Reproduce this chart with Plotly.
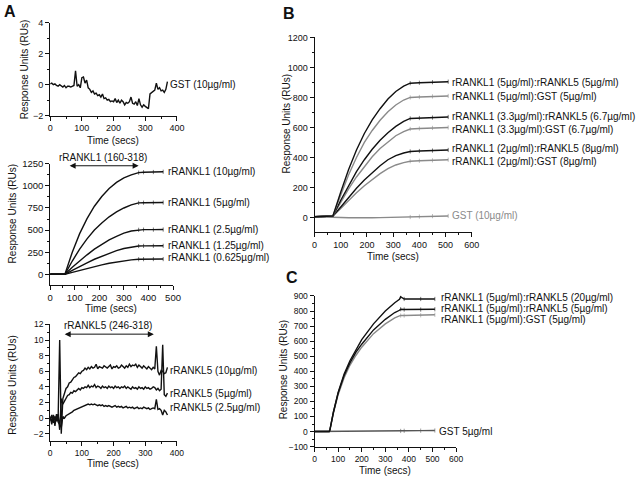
import plotly.graph_objects as go

W, H = 640, 481
FONT = "Liberation Sans, Arial, sans-serif"
BLACK = "#111111"
GRAY = "#8a8a8a"

# ---------------- Panel A (top): GST 10ug/ml ----------------
gst_a_vals = [0.05, 0.1, 0.0, 0.05, -0.05, -0.1, 0.0, -0.1, -0.15, -0.05, -0.2, -0.1, -0.1, -0.15, -0.1, -0.05,
              0.9, -0.1, 0.0, -0.2, 0.45, 0.5, 0.1, 0.3, -0.2, -0.3, -0.5, -0.4, -0.6, -0.55, -0.7, -0.65,
              -0.8, -0.6, -0.9, -0.85, -1.0, -0.95, -1.1, -1.05, -1.1, -0.9, -1.15, -1.0, -1.2, -1.0, -1.1,
              -1.3, -1.15, -1.2, -1.1, -0.8, -1.2, -1.25, -1.1, -1.35, -0.9, -1.3, -1.45, -1.3, -1.4, -1.5,
              -1.55, -0.6, -0.5, -0.45, -0.35, 0.1, -0.3, -0.2, -0.4, -0.35, -0.5, -0.3, 0.2]
gst_a_t = [5 * i for i in range(len(gst_a_vals))]

# ---------------- Panel A (middle): rRANKL1 dilutions ----------------
rankl1_t = [0, 60, 90, 120, 150, 180, 210, 240, 270, 300, 330, 360, 380, 420, 460]
rankl1_10 = [0, 0, 250, 460, 630, 770, 880, 970, 1040, 1090, 1125, 1150, 1155, 1157, 1160]
rankl1_5 = [0, 0, 150, 285, 400, 500, 580, 650, 705, 750, 785, 808, 810, 811, 812]
rankl1_2_5 = [0, 0, 80, 155, 220, 285, 340, 390, 430, 465, 490, 503, 505, 505, 506]
rankl1_1_25 = [0, 0, 45, 90, 130, 170, 205, 240, 268, 292, 310, 320, 321, 322, 322]
rankl1_0_625 = [0, 0, 22, 45, 67, 88, 107, 125, 140, 153, 163, 170, 171, 172, 172]
rankl1_labels = ["rRANKL1 (10µg/ml)", "rRANKL1 (5µg/ml)", "rRANKL1 (2.5µg/ml)",
                 "rRANKL1 (1.25µg/ml)", "rRANKL1 (0.625µg/ml)"]
rankl1_label_y = [1160, 815, 508, 322, 188]

# ---------------- Panel A (bottom): rRANKL5 dilutions ----------------
rankl5_10 = [0.2, -0.5, 0.3, -1.0, 0.5, -0.3,
             10.0, -2.0, 2.5, 3.2, 3.8, 4.0, 4.5, 4.6, 5.0, 5.2, 5.3, 5.6, 5.8, 5.7, 6.0, 6.1, 6.4, 6.2,
             6.5, 6.3, 6.6, 6.4, 6.5, 6.9, 6.3, 6.6, 6.5, 6.4, 6.7, 6.5, 6.4, 6.6, 6.8, 6.3, 6.6, 6.5,
             6.7, 6.4, 6.5, 6.8, 6.6, 6.4, 6.7, 6.5, 6.9, 6.6, 6.8, 6.7, 6.9, 6.5, 6.8, 6.6, 6.4, 6.7,
             6.5, 6.3, 6.6, 6.4, 6.2, 6.5, 6.3, 9.2, 6.0, 5.5, 6.1, 6.0, 5.7, 5.8, 6.5]
rankl5_5 = [-0.3, 0.4, -0.6, 0.2, -0.4, 0.5,
            -1.5, 2.5, 1.8, 2.2, 2.6, 2.9, 3.0, 3.3, 3.2, 3.5, 3.4, 3.6, 3.8, 3.6, 3.9, 3.8, 4.0, 3.9,
            4.2, 3.9, 4.1, 4.0, 4.3, 3.9, 4.1, 4.0, 3.8, 4.1, 3.9, 4.0, 3.8, 4.1, 3.9, 4.0, 3.8, 4.1,
            3.9, 4.0, 3.8, 4.0, 3.9, 4.1, 3.8, 4.0, 3.9, 3.7, 4.0, 3.8, 3.9, 3.7, 4.0, 3.8, 3.9, 3.7,
            4.0, 3.8, 3.9, 3.7, 3.8, 4.0, 3.9, 3.6, 3.8, 3.5, 3.7, 9.4, 3.0, 2.8, 3.2]
rankl5_2_5 = [0.1, -0.8, 0.4, -0.2, 0.3, -0.5,
              -0.8, -1.2, 0.2, 0.0, 0.3, 0.4, 0.6, 0.7, 0.8, 1.0, 1.1, 1.2, 1.3, 1.4, 1.5, 1.6, 1.6, 1.7,
              1.8, 1.7, 1.8, 1.7, 1.8, 1.7, 1.6, 1.7, 1.6, 1.7, 1.5, 1.6, 1.5, 1.6, 1.5, 1.4, 1.5, 1.6,
              1.4, 1.5, 1.4, 1.5, 1.3, 1.4, 1.5, 1.3, 1.4, 1.3, 1.4, 1.2, 1.3, 1.4, 1.2, 1.3, 1.2, 1.4,
              1.3, 1.2, 1.3, 1.1, 1.2, 1.3, 1.2, 2.4, 1.1, 1.2, 1.0, 0.4, 1.0, 0.8, 0.4]
rankl5_t = [5 * i for i in range(len(rankl5_10))]
rankl5_labels = ["rRANKL5 (10µg/ml)", "rRANKL5 (5µg/ml)", "rRANKL5 (2.5µg/ml)"]
rankl5_label_y = [6.1, 3.2, 1.3]

# ---------------- Panel B: mixtures ----------------
b_t = [0, 65, 70, 100, 130, 160, 190, 220, 250, 280, 310, 340, 365, 400, 450, 510]
b_l1_l5_5 = [5, 5, 10, 170, 320, 450, 560, 650, 725, 790, 840, 875, 895, 898, 902, 905]
b_l1_gst_5 = [5, 5, 10, 150, 285, 400, 500, 580, 648, 705, 750, 783, 800, 803, 807, 810]
b_l1_l5_33 = [5, 5, 10, 115, 215, 305, 385, 455, 515, 565, 607, 640, 660, 663, 666, 670]
b_l1_gst_33 = [5, 5, 10, 100, 190, 270, 340, 405, 460, 505, 545, 573, 590, 593, 597, 600]
b_l1_l5_2 = [5, 5, 10, 70, 135, 195, 250, 300, 345, 385, 412, 430, 440, 443, 446, 450]
b_l1_gst_2 = [5, 5, 10, 60, 115, 165, 212, 255, 292, 325, 350, 366, 375, 378, 381, 385]
b_gst = [5, 5, 3, 0, -2, -3, -3, -2, -1, 0, 1, 2, 3, 6, 9, 10]
b_labels = ["rRANKL1 (5µg/ml):rRANKL5 (5µg/ml)", "rRANKL1 (5µg/ml):GST (5µg/ml)",
            "rRANKL1 (3.3µg/ml):rRANKL5 (6.7µg/ml)", "rRANKL1 (3.3µg/ml):GST (6.7µg/ml)",
            "rRANKL1 (2µg/ml):rRANKL5 (8µg/ml)", "rRANKL1 (2µg/ml):GST (8µg/ml)", "GST (10µg/ml)"]
b_label_y = [900, 807, 676, 589, 459, 376, 13]

# ---------------- Panel C ----------------
c_t = [0, 62, 65, 80, 100, 125, 150, 175, 200, 250, 300, 340, 360, 365, 380, 450, 510]
c_l1_l5_20 = [0, 0, 10, 130, 260, 380, 470, 545, 610, 715, 800, 855, 878, 895, 880, 880, 880]
c_l1_l5_5 = [0, 0, 10, 128, 255, 370, 455, 525, 580, 675, 745, 790, 805, 812, 810, 810, 812]
c_l1_gst_5 = [0, 0, 10, 122, 245, 355, 440, 505, 560, 650, 715, 755, 768, 770, 770, 772, 775]
c_gst = [0, 0, 0, 0, 0, 0, 0, 0, 0, 1, 2, 3, 3, 4, 5, 6, 7]
c_labels = ["rRANKL1 (5µg/ml):rRANKL5 (20µg/ml)", "rRANKL1 (5µg/ml):rRANKL5 (5µg/ml)",
            "rRANKL1 (5µg/ml):GST (5µg/ml)", "GST 5µg/ml"]
c_label_y = [887, 818, 746, 0]

fig = go.Figure()


def line(x, y, xa, ya, color=BLACK, width=1.4, tick_from=None):
    sizes = [3 if (tick_from is not None and xv >= tick_from) else 0 for xv in x]
    fig.add_trace(go.Scatter(x=x, y=y, mode="lines+markers" if tick_from is not None else "lines",
                             xaxis=xa, yaxis=ya,
                             line=dict(color=color, width=width),
                             marker=dict(symbol="line-ns", size=sizes,
                                         line=dict(color=color, width=0.8)),
                             showlegend=False, hoverinfo="skip"))


# Panel A top
line(gst_a_t, gst_a_vals, "x", "y")
# Panel A middle
for ys in [rankl1_10, rankl1_5, rankl1_2_5, rankl1_1_25, rankl1_0_625]:
    line(rankl1_t, ys, "x2", "y2", tick_from=360)
# Panel A bottom
for ys in [rankl5_10, rankl5_5, rankl5_2_5]:
    line(rankl5_t, ys, "x3", "y3")
# Panel B
for ys, col in [(b_gst, GRAY), (b_l1_gst_2, GRAY), (b_l1_l5_2, BLACK), (b_l1_gst_33, GRAY),
                (b_l1_l5_33, BLACK), (b_l1_gst_5, GRAY), (b_l1_l5_5, BLACK)]:
    line(b_t, ys, "x4", "y4", col, tick_from=365)
# Panel C
for ys, col in [(c_gst, "#555555"), (c_l1_gst_5, GRAY), (c_l1_l5_5, BLACK), (c_l1_l5_20, BLACK)]:
    line(c_t, ys, "x5", "y5", col, tick_from=365)


def px_x(p):
    return p / W


def px_y(p):
    return 1 - p / H


def xaxis(dom, rng, dtick, anchor, fs):
    return dict(domain=dom, range=rng, anchor=anchor, dtick=dtick, tick0=0,
                showline=True, linecolor=BLACK, linewidth=1, ticks="outside", ticklen=4,
                tickcolor=BLACK, tickwidth=1, showgrid=False, zeroline=False,
                tickfont=dict(family=FONT, size=fs, color=BLACK),
                minor=dict(dtick=dtick / 2, ticks="outside", ticklen=2, tickcolor=BLACK, showgrid=False))


def yaxis(dom, rng, dtick, anchor, fs):
    return dict(domain=dom, range=rng, anchor=anchor, dtick=dtick, tick0=0,
                showline=True, linecolor=BLACK, linewidth=1, ticks="outside", ticklen=4,
                tickcolor=BLACK, tickwidth=1, showgrid=False, zeroline=False,
                tickfont=dict(family=FONT, size=fs, color=BLACK),
                minor=dict(dtick=dtick / 2, ticks="outside", ticklen=2, tickcolor=BLACK, showgrid=False))


fig.update_layout(
    width=W, height=H, margin=dict(l=0, r=0, t=0, b=0),
    paper_bgcolor="white", plot_bgcolor="white",
    font=dict(family=FONT, size=10, color=BLACK),
    xaxis=xaxis([px_x(48), px_x(177)], [0, 400], 100, "y", 9),
    yaxis=yaxis([px_y(113), px_y(18)], [-2, 4.01], 2, "x", 9),
    xaxis2=xaxis([px_x(48), px_x(173)], [0, 500], 100, "y2", 9.5),
    yaxis2=yaxis([px_y(286), px_y(162)], [-122, 1252], 250, "x2", 9.5),
    xaxis3=xaxis([px_x(48), px_x(177)], [0, 400], 100, "y3", 8.5),
    yaxis3=yaxis([px_y(445), px_y(326)], [-2.9, 12.02], 2, "x3", 8.5),
    xaxis4=xaxis([px_x(317), px_x(477)], [0, 600], 100, "y4", 9),
    yaxis4=yaxis([px_y(232), px_y(33)], [-98, 1201], 200, "x4", 9),
    xaxis5=xaxis([px_x(317), px_x(461)], [0, 600], 100, "y5", 8.5),
    yaxis5=yaxis([px_y(451), px_y(297)], [-100, 901], 100, "x5", 8.5),
)

ann = []


def label(text, x, y, xr, yr, color=BLACK):
    ann.append(dict(text=text, x=x, y=y, xref=xr, yref=yr, xanchor="left", yanchor="middle",
                    showarrow=False, borderpad=0, font=dict(family=FONT, size=10, color=color)))


def ptext(text, x, y, angle=0, size=10, xanchor="center"):
    ann.append(dict(text=text, x=px_x(x), y=px_y(y), xref="paper", yref="paper",
                    xanchor=xanchor, yanchor="middle", textangle=angle, showarrow=False,
                    borderpad=0, font=dict(family=FONT, size=size, color=BLACK)))


label("GST (10µg/ml)", 374, 0, "x", "y")
for t, yv in zip(rankl1_labels, rankl1_label_y):
    label(t, 474, yv, "x2", "y2")
for t, yv in zip(rankl5_labels, rankl5_label_y):
    label(t, 374, yv, "x3", "y3")
for i, (t, yv) in enumerate(zip(b_labels, b_label_y)):
    label(t, 522, yv, "x4", "y4", GRAY if i == 6 else BLACK)
for t, yv in zip(c_labels[:3], c_label_y[:3]):
    label(t, 533, yv, "x5", "y5")
label(c_labels[3], 522, c_label_y[3], "x5", "y5")

# double-headed arrows with their labels
for xr, yr, x0, x1, yv in [("x2", "y2", 73, 360, 1228), ("x3", "y3", 41, 327, 10.75)]:
    ann.append(dict(x=x1, y=yv, ax=x0, ay=yv, xref=xr, yref=yr, axref=xr, ayref=yr, text="",
                    showarrow=True, arrowhead=2, arrowside="end+start", arrowsize=1.2,
                    arrowwidth=1, arrowcolor=BLACK))
ptext("rRANKL1 (160-318)", 102, 156)
ptext("rRANKL5 (246-318)", 107, 327)

# axis titles
for xc, yc in [(22, 66), (10, 213), (10, 388), (288, 122), (285, 373)]:
    ptext("Response Units (RUs)", xc, yc, angle=-90)
for xc, yc in [(112, 138), (110, 310), (112, 468), (397, 257), (389, 475)]:
    ptext("Time (secs)", xc, yc)

# panel letters
ptext("<b>A</b>", 0, 7, size=16, xanchor="left")
ptext("<b>B</b>", 284, 9, size=16, xanchor="left")
ptext("<b>C</b>", 287, 278, size=16, xanchor="left")

fig.update_layout(annotations=ann)
fig.write_html("out.html", config={"displayModeBar": False},
               post_script="document.body.style.margin='0';document.body.style.overflow='hidden';")
